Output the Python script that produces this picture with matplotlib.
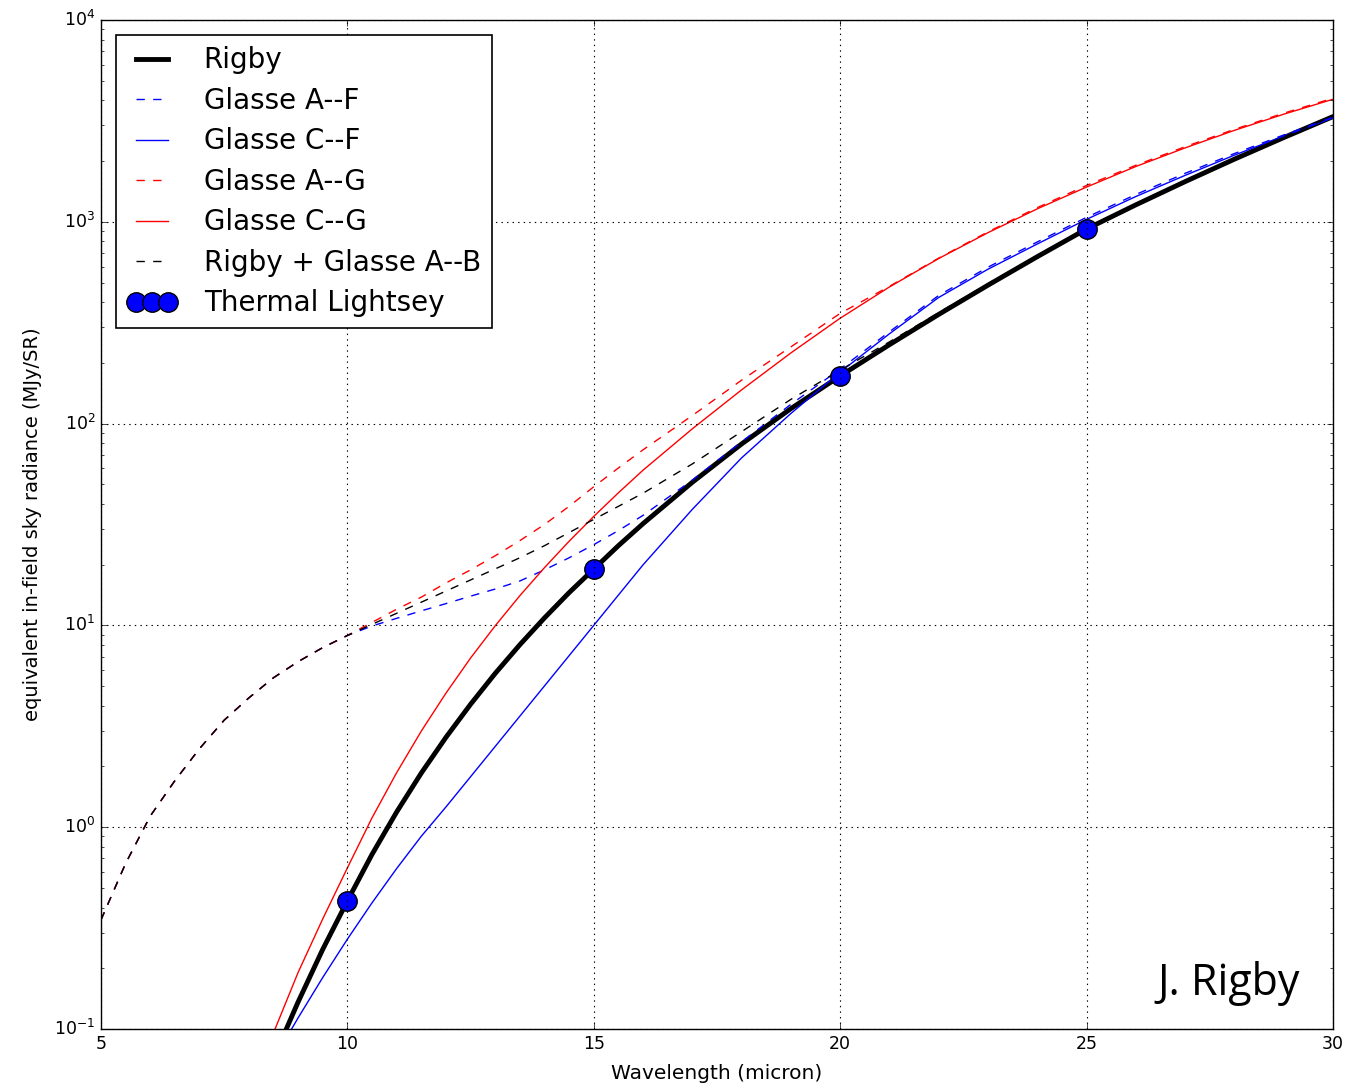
import matplotlib.pyplot as plt
import numpy as np

plt.style.use('classic')

nan = np.nan

# longitud de onda (micron): paso 0.5 hasta 16, luego paso 1
wave = [5, 5.5, 6, 6.5, 7, 7.5, 8, 8.5, 9, 9.5, 10, 10.5, 11, 11.5,
        12, 12.5, 13, 13.5, 14, 14.5, 15, 15.5, 16,
        17, 18, 19, 20, 21, 22, 23, 24, 25, 26, 27, 28, 29, 30]

# tramo comun de las curvas a trazos (5 - 10 micron)
dashed_low = [0.347, 0.661, 1.135, 1.70, 2.45, 3.39, 4.37, 5.50, 6.61, 7.76, 8.91]

# radiancia (MJy/SR)
rigby = [nan] * 6 + [0.0355, 0.0714, 0.136, 0.248, 0.431, 0.733, 1.189, 1.854,
                     2.786, 4.064, 5.781, 8.017, 10.89, 14.53, 19.01, 24.83, 31.92,
                     51.17, 79.25, 118.6, 172.2, 246.0, 347.5, 485.1, 671.4, 920.7,
                     1213, 1581, 2042, 2612, 3319]
glasse_af = dashed_low + [9.931, 10.84, 11.80, 12.82, 13.96, 15.14, 16.60, 18.84,
                          21.63, 25.12, 29.51, 35.08,
                          52.48, 81.28, 124.5, 186.2, 285.1, 431.5, 595.7, 794.3,
                          1052, 1365, 1738, 2178, 2692, 3296]
glasse_cf = [nan] * 6 + [0.0422, 0.0700, 0.1135, 0.1799, 0.2786, 0.4217, 0.6237, 0.9016,
                         1.259, 1.778, 2.512, 3.548, 5.012, 7.079, 10.0, 14.13, 19.95,
                         37.58, 67.61, 112.2, 179.9, 278.6, 421.7, 582.1, 776.2, 1028,
                         1334, 1698, 2138, 2661, 3273]
glasse_ag = dashed_low + [10.35, 12.02, 13.80, 16.22, 18.84, 22.13, 26.30, 31.62,
                          38.90, 48.64, 60.26, 74.13,
                          109.6, 164.1, 239.9, 351.6, 478.6, 660.7, 891.3, 1175,
                          1514, 1905, 2355, 2871, 3451, 4093]
glasse_cg = [nan] * 6 + [0.0468, 0.0955, 0.1905, 0.351, 0.628, 1.112, 1.862, 2.992,
                         4.613, 6.887, 9.954, 14.03, 19.32, 26.12, 34.67, 45.39, 58.75,
                         94.19, 146.9, 223.9, 332.7, 475.3, 657.7, 883.1, 1159, 1486,
                         1879, 2323, 2838, 3412, 4046]
rigby_ab = dashed_low + [10.12, 11.48, 13.03, 14.79, 16.79, 19.05, 21.63, 24.83,
                         28.84, 33.50, 38.90, 45.19,
                         63.10, 91.20, 131.8, 184.1, 254.1, 354.8, 493.3, 680.8,
                         931.1, 1227, 1600, 2061, 2636, 3342]

# puntos de Lightsey
lightsey_wave = [10, 15, 20, 25]
lightsey = [0.43, 19.0, 172, 921]

fig = plt.figure(figsize=(13.66, 10.85), dpi=100, facecolor='white')
ax = fig.add_axes([0.0739, 0.0516, 0.9019, 0.93])

ax.plot(wave, rigby, 'k-', lw=3.5, label='Rigby')
ax.plot(wave, glasse_af, 'b--', lw=1, label='Glasse A--F')
ax.plot(wave, glasse_cf, 'b-', lw=1, label='Glasse C--F')
ax.plot(wave, glasse_ag, 'r--', lw=1, label='Glasse A--G')
ax.plot(wave, glasse_cg, 'r-', lw=1, label='Glasse C--G')
ax.plot(wave, rigby_ab, 'k--', lw=1, label='Rigby + Glasse A--B')
ax.plot(lightsey_wave, lightsey, 'o', color='b', markersize=14,
        markeredgecolor='k', markeredgewidth=1, label='Thermal Lightsey')

ax.set_yscale('log')
ax.set_xlim(5, 30)
ax.set_ylim(0.1, 1e4)
ax.set_xticks([5, 10, 15, 20, 25, 30])
ax.grid(True, which='major', linestyle=':', color='k', linewidth=0.8)
ax.tick_params(labelsize=12.5)

ax.set_xlabel('Wavelength (micron)', fontsize=14.5, labelpad=8)
ax.set_ylabel('equivalent in-field sky radiance (MJy/SR)', fontsize=14, labelpad=9)

leg = ax.legend(loc='upper left', fontsize=20, numpoints=3, fancybox=False,
                handlelength=1.75, handletextpad=1.0, borderaxespad=0.55,
                labelspacing=0.45)
leg.get_frame().set_linewidth(1.2)

ax.text(0.973, 0.034, 'J. Rigby', transform=ax.transAxes, fontsize=31,
        family='Open Sans', ha='right', va='baseline')

fig.savefig('out.png', dpi=100, facecolor='white')
